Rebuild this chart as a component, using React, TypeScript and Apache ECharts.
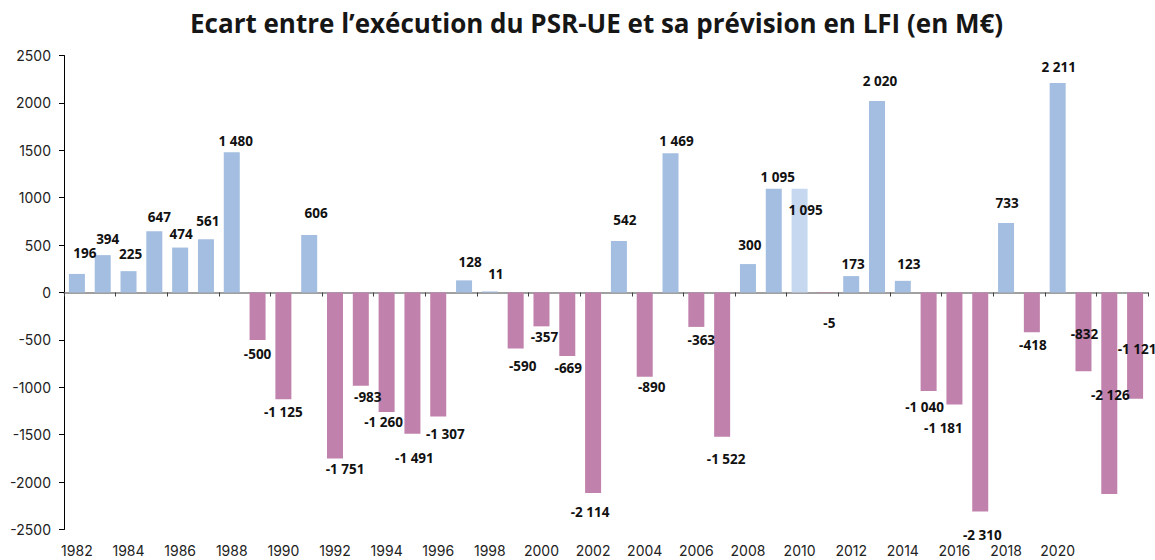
import React, { useEffect, useRef } from "react";
import * as echarts from "echarts";

const TITLE = "Ecart entre l’exécution du PSR-UE et sa prévision en LFI (en M€)";

const years: string[] = [
  "1982", "1983", "1984", "1985", "1986", "1987", "1988", "1989", "1990", "1991",
  "1992", "1993", "1994", "1995", "1996", "1997", "1998", "1999", "2000", "2001",
  "2002", "2003", "2004", "2005", "2006", "2007", "2008", "2009", "2010", "2011",
  "2012", "2013", "2014", "2015", "2016", "2017", "2018", "2019", "2020", "2021",
  "2022", "2023",
];

const ecart: number[] = [
  196, 394, 225, 647, 474, 561, 1480, -500, -1125, 606,
  -1751, -983, -1260, -1491, -1307, 128, 11, -590, -357, -669,
  -2114, 542, -890, 1469, -363, -1522, 300, 1095, 1095, -5,
  173, 2020, 123, -1040, -1181, -2310, 733, -418, 2211, -832,
  -2126, -1121,
];

// Highlighted (lighter) year
const highlightYears: string[] = ["2010"];

// Label nudges [dx, dy] in pixels, relative to the default outside position
const labelNudges: [number, number][] = [
  [8, -9], [5, -4], [2, -5], [5, -2], [1, -2], [2, -6], [4, 1], [0, 2], [0, 1], [7, -10],
  [10, -1], [7, -1], [-3, -2], [2, 12], [7, 6], [6, -6], [6, -5], [7, 6], [3, -1], [1, 0],
  [-3, 7], [6, -9], [7, -2], [6, 0], [5, 1], [4, 10], [2, -7], [4, 0], [6, 33], [4, 18],
  [2, 0], [3, -8], [6, -5], [-4, 4], [-11, 12], [2, 12], [1, -8], [1, 1], [1, -4], [1, -49],
  [1, -111], [2, -62],
];

const yTicks = { min: -2500, max: 2500, interval: 500 };

const COLOR_POS = "#A3BEE0";
const COLOR_NEG = "#C081AD";
const COLOR_HL = "#C6D8F0";
const FONT = "'Open Sans', 'Noto Sans', sans-serif";
const FONT_TICK = "Inter, 'Noto Sans', sans-serif";

function fmt(v: number): string {
  const s = Math.abs(v).toString().replace(/\B(?=(\d{3})+(?!\d))/g, " ");
  return (v < 0 ? "-" : "") + s;
}

export default function App() {
  const ref = useRef<HTMLDivElement>(null);

  useEffect(() => {
    if (!ref.current) return;
    const chart = echarts.init(ref.current, undefined, { renderer: "svg" });

    const data = ecart.map((v, i) => ({
      value: v,
      itemStyle: {
        color: highlightYears.includes(years[i]) ? COLOR_HL : v >= 0 ? COLOR_POS : COLOR_NEG,
      },
      label: {
        position: v >= 0 ? "top" : "bottom",
        offset: labelNudges[i],
      },
    }));

    chart.setOption({
      animation: false,
      title: {
        text: TITLE,
        left: 185,
        top: 5,
        textStyle: { fontFamily: FONT, fontSize: 26, fontWeight: "bold", color: "#161616" },
      },
      grid: { left: 64, right: 7, top: 55.5, bottom: 30.5, containLabel: false },
      xAxis: [
        {
          type: "category",
          data: years,
          axisLine: { onZero: true, lineStyle: { color: "#808080", width: 1.5 } },
          axisTick: { show: true, interval: 1, length: 4, inside: false, lineStyle: { color: "#404040" } },
          axisLabel: { show: false },
        },
        {
          type: "category",
          data: years,
          position: "bottom",
          axisLine: { show: false, onZero: false },
          axisTick: { show: false },
          axisLabel: {
            show: true,
            interval: (i: number, v: string) => i % 2 === 0 && Number(v) <= 2020,
            margin: 14,
            fontFamily: FONT_TICK,
            fontSize: 14,
            color: "#222",
          },
        },
      ],
      yAxis: {
        type: "value",
        min: yTicks.min,
        max: yTicks.max,
        interval: yTicks.interval,
        splitLine: { show: false },
        axisLine: { show: true, lineStyle: { color: "#000", width: 1 } },
        axisTick: { show: true, length: 5, lineStyle: { color: "#000" } },
        axisLabel: {
          fontFamily: FONT_TICK,
          fontSize: 14,
          color: "#222",
          margin: 13,
          formatter: (v: number) => String(v),
        },
      },
      series: [
        {
          type: "bar",
          xAxisIndex: 0,
          data,
          barWidth: 16,
          label: {
            show: true,
            distance: 5,
            fontFamily: FONT,
            fontSize: 13.5,
            fontWeight: "bold",
            color: "#111",
            formatter: (p: any) => fmt(p.value),
          },
        },
      ],
    });

    return () => chart.dispose();
  }, []);

  return (
    <div
      ref={ref}
      style={{ position: "absolute", left: 0, top: 0, width: 1155, height: 560, background: "#fff" }}
    />
  );
}
